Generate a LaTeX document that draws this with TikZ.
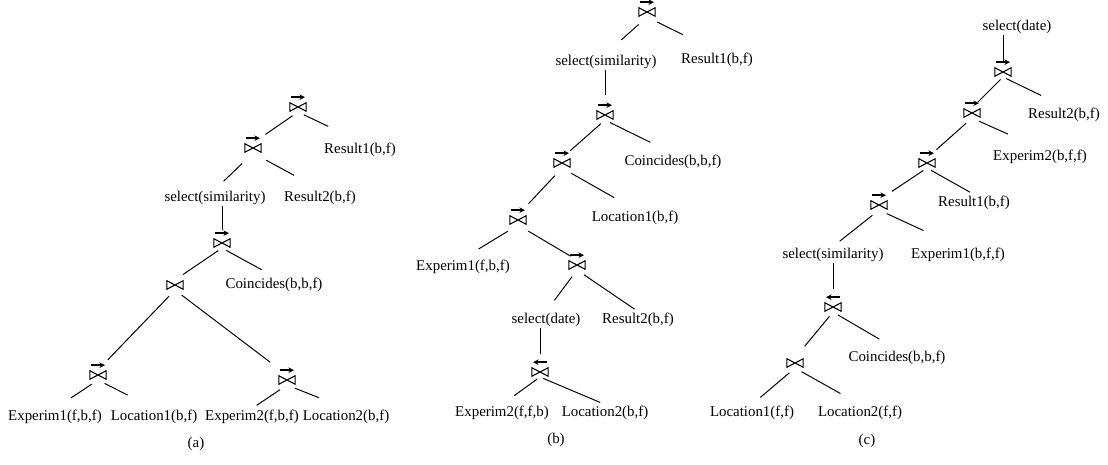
\documentclass[tikz,border=0pt]{standalone}
\usepackage{fontspec}
\setmainfont{Liberation Serif}
\usepackage{tikz}
\usetikzlibrary{arrows.meta,calc}
% join symbol and the arrow above it
\newcommand\bt{\tikz\draw[line width=0.75pt,line join=miter] (0,0) -- (0,6pt) -- (11.5pt,0) -- (11.5pt,6pt) -- cycle;}
\newcommand\jr{\tikz\draw[-{Stealth[length=4pt,width=4pt]},line width=1pt] (0,0) -- (10pt,0);}
\newcommand\jl{\tikz\draw[-{Stealth[length=4pt,width=4pt]},line width=1pt] (10pt,0) -- (0,0);}
\begin{document}
\begin{tikzpicture}[x=0.025cm,y=-0.025cm,
    lbl/.style={inner sep=1pt,font=\fontsize{10.6}{12}\selectfont},
    jsym/.style={inner sep=0pt},
    jarr/.style={inner sep=0pt,label distance=1.2pt},
    rjoin/.style={jsym,label={[jarr]above:\jr}},
    ljoin/.style={jsym,label={[jarr]above:\jl}},
    link/.style={line width=0.7pt}]
  \useasboundingbox (0,0) rectangle (1108,465);
  % (a)
  \node[rjoin] (ja1) at (298,107) {\bt};
  \node[lbl] (ra1) at (360,150) {Result1(b,f)};
  \node[rjoin] (ja2) at (253,148) {\bt};
  \node[lbl] (sa1) at (215,198) {select(similarity)};
  \node[lbl] (ra2) at (320,198) {Result2(b,f)};
  \node[rjoin] (ja3) at (222,243) {\bt};
  \node[jsym] (ja4) at (175,285) {\bt};
  \node[lbl] (ca) at (274,285) {Coincides(b,b,f)};
  \node[rjoin] (ja5) at (98,375) {\bt};
  \node[rjoin] (ja6) at (287,380) {\bt};
  \node[lbl] (ea1) at (55,417) {Experim1(f,b,f)};
  \node[lbl] (la1) at (154,417) {Location1(b,f)};
  \node[lbl] (ea2) at (252,417) {Experim2(f,b,f)};
  \node[lbl] (la2) at (346,417) {Location2(b,f)};
  \node[lbl] (capa) at (196,444) {(a)};
  % (b)
  \node[rjoin] (jb1) at (647,12) {\bt};
  \node[lbl] (sb1) at (606,62) {select(similarity)};
  \node[lbl] (rb1) at (717,60) {Result1(b,f)};
  \node[rjoin] (jb2) at (605,115) {\bt};
  \node[rjoin] (jb3) at (562,163) {\bt};
  \node[lbl] (cb) at (673,162) {Coincides(b,b,f)};
  \node[rjoin] (jb4) at (518,220) {\bt};
  \node[lbl] (lb1) at (635,218) {Location1(b,f)};
  \node[lbl] (eb1) at (463,267) {Experim1(f,b,f)};
  \node[rjoin] (jb5) at (577,265) {\bt};
  \node[lbl] (sb2) at (546,320) {select(date)};
  \node[lbl] (rb2) at (638,320) {Result2(b,f)};
  \node[ljoin] (jb6) at (540,372) {\bt};
  \node[lbl] (eb2) at (502,413) {Experim2(f,f,b)};
  \node[lbl] (lb2) at (605,413) {Location2(b,f)};
  \node[lbl] (capb) at (556,440) {(b)};
  % (c)
  \node[lbl] (sc1) at (1017,27) {select(date)};
  \node[rjoin] (jc1) at (1003,72) {\bt};
  \node[rjoin] (jc2) at (972,113) {\bt};
  \node[lbl] (rc2) at (1064,115) {Result2(b,f)};
  \node[rjoin] (jc3) at (927,163) {\bt};
  \node[lbl] (ec2) at (1040,157) {Experim2(b,f,f)};
  \node[rjoin] (jc4) at (879,205) {\bt};
  \node[lbl] (rc1) at (974,203) {Result1(b,f)};
  \node[lbl] (sc2) at (833,255) {select(similarity)};
  \node[lbl] (ec1) at (958,255) {Experim1(b,f,f)};
  \node[ljoin] (jc5) at (833,307) {\bt};
  \node[jsym] (jc6) at (795,363) {\bt};
  \node[lbl] (cc) at (897,358) {Coincides(b,b,f)};
  \node[lbl] (lc1) at (752,413) {Location1(f,f)};
  \node[lbl] (lc2) at (860,413) {Location2(f,f)};
  \node[lbl] (capc) at (867,441) {(c)};
  % tree edges: parent/child/gap at parent/gap at child
  \foreach \p/\c/\a/\b in {ja1/ja2/4.6/10.7, ja1/ra1/4.6/25, ja2/sa1/10.7/8.5, ja2/ra2/10.7/21,
      ja3/ja4/3.2/7, ja3/ca/3.2/10, ja4/ja5/6/10, ja4/ja6/6/15,
      ja5/ea1/5.3/13.5, ja5/la1/5.3/21, ja6/ea2/6/4, ja6/la2/6/20.6,
      jb1/sb1/8/14.6, jb1/rb1/8/27, jb2/jb3/4/7.8, jb2/cb/4/18,
      jb3/jb4/7.5/11, jb3/lb1/7.5/17, jb4/eb1/8.5/13, jb4/jb5/8.5/5.3,
      jb5/sb2/6/10, jb5/rb2/6/3, jb6/eb2/2.5/10.7, jb6/lb2/2.5/3.7,
      jc1/jc2/2.5/6, jc1/rc2/2.5/18, jc2/jc3/5.6/9, jc2/ec2/5.6/25,
      jc3/jc4/3.2/11, jc3/rc1/3.2/3.2, jc4/sc2/6/6, jc4/ec1/6/27,
      jc5/jc6/4/10.8, jc5/cc/4/14.6, jc6/lc1/5.3/7.8, jc6/lc2/5.3/16}
    \draw[link,shorten <=\a pt,shorten >=\b pt] (\p.south) -- (\c.north);
  % selections above a join
  \foreach \s/\j/\b in {sa1/ja3/6, sb1/jb2/11, sb2/jb6/9, sc1/jc1/4, sc2/jc5/9}
    \draw[link,shorten >=\b pt] (\s.south -| \j.north) -- (\j.north);
\end{tikzpicture}
\end{document}
